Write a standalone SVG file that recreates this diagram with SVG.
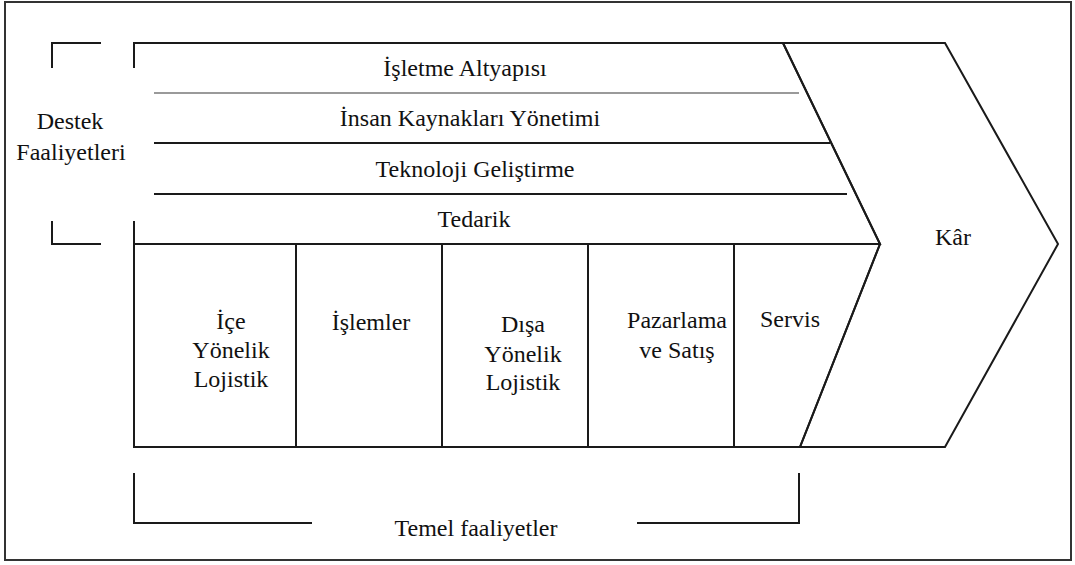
<svg xmlns="http://www.w3.org/2000/svg" width="1075" height="565" viewBox="0 0 1075 565">
<style>
.ln{stroke:#1a1a1a;stroke-width:2;fill:none}
.gl{stroke:#9a9a9a;stroke-width:2;fill:none}
text{font-family:'Liberation Serif','DejaVu Serif',serif;font-size:24px;fill:#111;text-anchor:middle}
</style>
<rect x="0" y="0" width="1075" height="565" fill="#fff"/>
<rect x="5" y="2" width="1066" height="558" fill="none" stroke="#333" stroke-width="2"/>
<g id="connectors">
<polyline class="ln" points="52,68 52,43 101,43"/>
<polyline class="ln" points="52,221 52,244 101,244"/>
<polyline class="ln" points="134,68 134,43 783,43"/>
<line class="ln" x1="134" y1="221" x2="134" y2="447"/>
<polyline class="ln" points="134,473 134,523 312,523"/>
<polyline class="ln" points="637,523 799,523 799,473"/>
</g>
<g id="destek">
<text x="70" y="129">Destek</text>
<text x="71" y="160">Faaliyetleri</text>
</g>
<g id="support">
<polyline class="ln" points="783,43 880,244 134,244"/>
<line class="gl" x1="154" y1="93" x2="799" y2="93"/>
<line class="ln" x1="154" y1="143" x2="830" y2="143"/>
<line class="ln" x1="154" y1="194" x2="847" y2="194"/>
</g>
<g id="isletme"><text x="465" y="76">İşletme Altyapısı</text></g>
<g id="insan"><text x="470" y="126">İnsan Kaynakları Yönetimi</text></g>
<g id="teknoloji"><text x="475" y="177">Teknoloji Geliştirme</text></g>
<g id="tedarik"><text x="474" y="227">Tedarik</text></g>
<g id="kar">
<polygon class="ln" points="783,43 945,43 1058,244 945,447 800,447 880,244"/>
<text x="953" y="245">Kâr</text>
</g>
<g id="primary">
<polyline class="ln" points="134,244 134,447 800,447 880,244"/>
<line class="ln" x1="296" y1="244" x2="296" y2="447"/>
<line class="ln" x1="442" y1="244" x2="442" y2="447"/>
<line class="ln" x1="588" y1="244" x2="588" y2="447"/>
<line class="ln" x1="734" y1="244" x2="734" y2="447"/>
</g>
<g id="ice">
<text x="231" y="329">İçe</text>
<text x="231" y="358">Yönelik</text>
<text x="231" y="387">Lojistik</text>
</g>
<g id="islemler"><text x="371" y="330">İşlemler</text></g>
<g id="disa">
<text x="523" y="332">Dışa</text>
<text x="523" y="362">Yönelik</text>
<text x="523" y="390">Lojistik</text>
</g>
<g id="pazarlama">
<text x="677" y="328">Pazarlama</text>
<text x="677" y="358">ve Satış</text>
</g>
<g id="servis"><text x="790" y="327">Servis</text></g>
<g id="temel"><text x="476" y="536">Temel faaliyetler</text></g>
</svg>
